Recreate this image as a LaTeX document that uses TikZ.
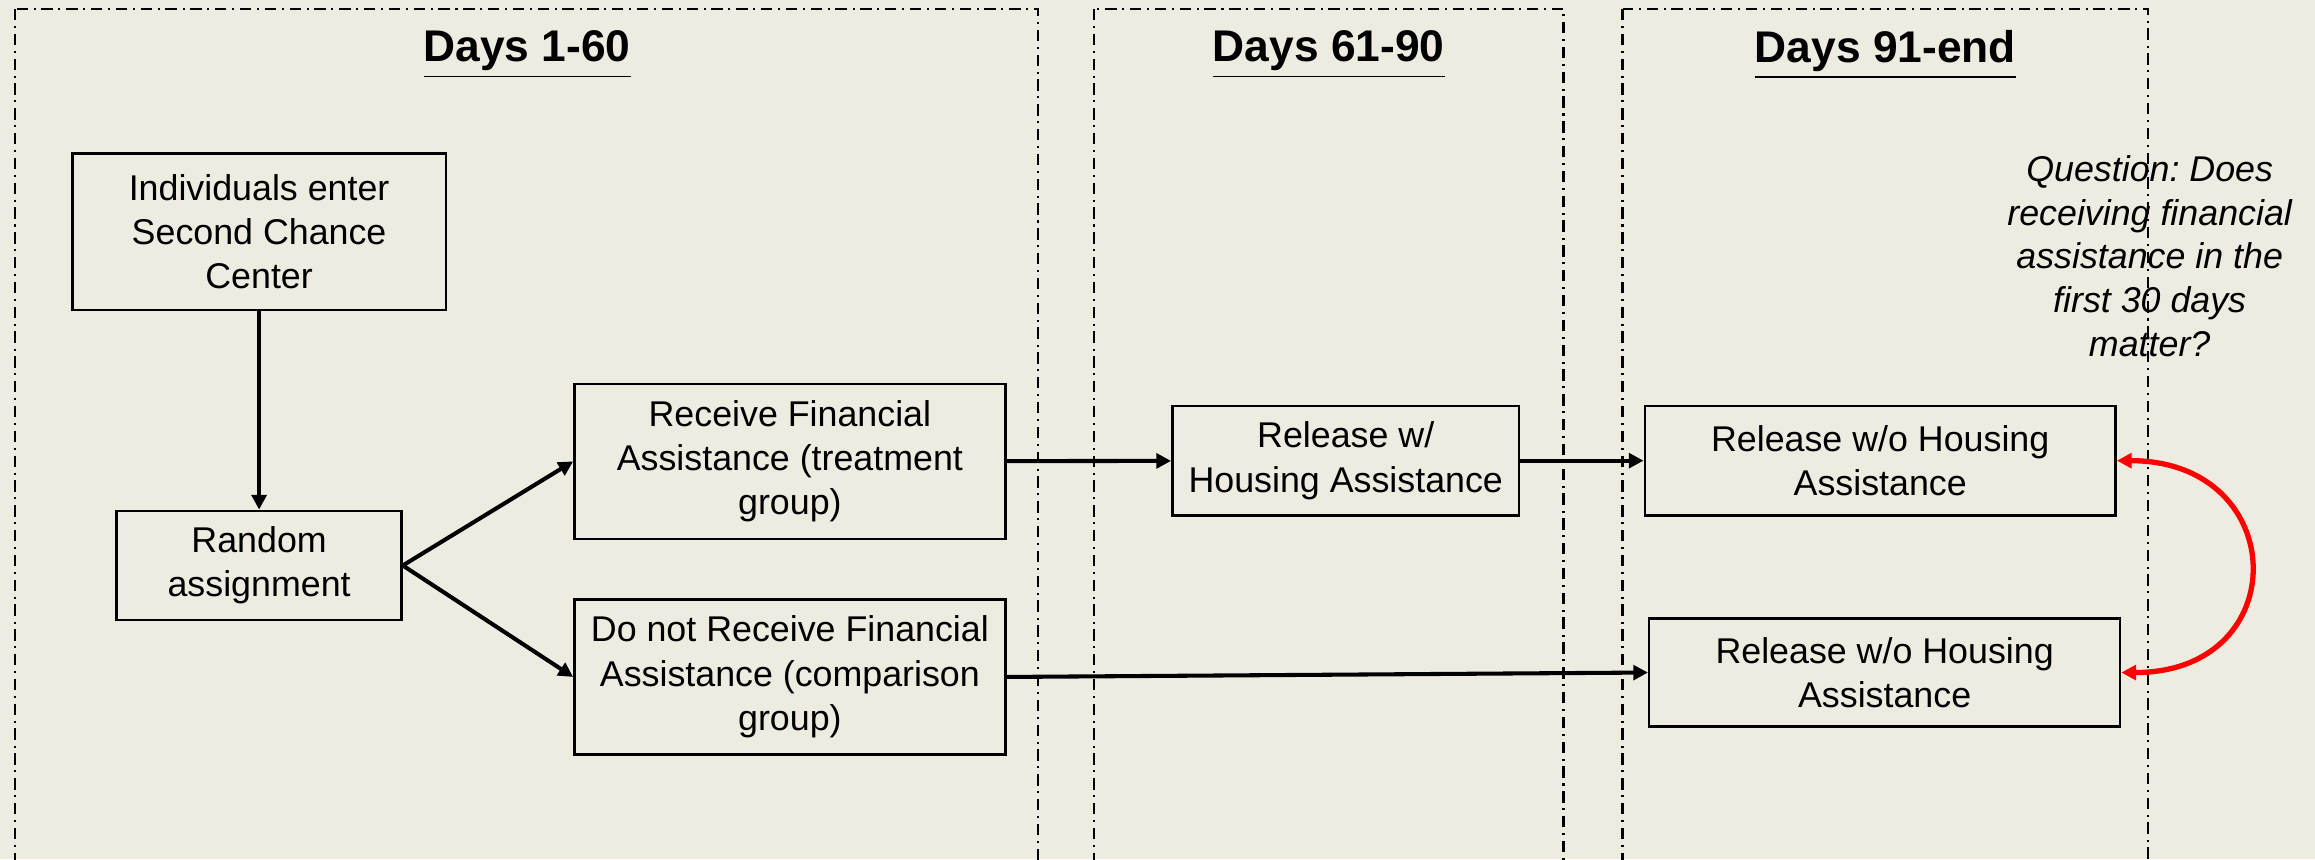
\documentclass[tikz,border=0pt]{standalone}
\usepackage{fontspec}
\setmainfont{Liberation Sans}
\usetikzlibrary{arrows.meta}
\definecolor{paper}{RGB}{238,236,225}
\frenchspacing

\begin{document}
\begin{tikzpicture}[x=0.012755cm, y=-0.012755cm,
        box/.style={draw, line width=0.6pt, align=center, inner sep=0pt, font=\fontsize{8.8pt}{10.9pt}\selectfont},
        phase/.style={draw, line width=0.6pt, dash pattern=on 2.8pt off 1.4pt on 0.5pt off 1.4pt},
        title/.style={font=\bfseries\fontsize{10.9pt}{13pt}\selectfont},
        question/.style={align=center, font=\itshape\fontsize{8.8pt}{10.8pt}\selectfont},
        flow/.style={line width=1pt, -{Triangle[length=3.6pt, width=3.6pt]}}]

        \def\boxh{0.944cm}

        \fill[paper] (0,0) rectangle (1568,582);
        \clip (0,0) rectangle (1568,582);

        \draw[phase] (10,6) rectangle (703,620);
        \draw[phase] (741,6) rectangle (1059,620);
        \draw[phase] (1099,6) rectangle (1455,620);

        \node[title] (days1) at (357,37) {\underline{Days 1-60}};
        \node[title] (days2) at (900,37) {\underline{Days 61-90}};
        \node[title] (days3) at (1277,37) {\underline{Days 91-end}};

        \node[box, minimum width=3.227cm, minimum height=1.352cm] (enter) at (175.5,157) {Individuals enter\\Second Chance\\Center};
        \node[box, minimum width=2.462cm, minimum height=\boxh] (random) at (175.5,383) {Random\\assignment};
        \node[box, minimum width=3.724cm, minimum height=1.339cm] (treat) at (535,312.5) {Receive Financial\\Assistance (treatment\\group)};
        \node[box, minimum width=3.724cm, minimum height=1.339cm] (comp) at (535,458.5) {Do not Receive Financial\\Assistance (comparison\\group)};
        \node[box, minimum width=2.997cm, minimum height=\boxh] (withh) at (911.5,312) {Release w/\\Housing Assistance};
        \node[box, minimum width=4.069cm, minimum height=\boxh] (noh1) at (1273.5,312) {Release w/o Housing\\Assistance};
        \node[box, minimum width=4.069cm, minimum height=0.931cm] (noh2) at (1276.5,455.5) {Release w/o Housing\\Assistance};

        \node[question] (q) at (1456,173.5) {Question: Does\\receiving financial\\assistance in the\\first 30 days\\matter?};

        \draw[flow] (enter) -- (random);
        \draw[flow] (random.east) -- (treat.west);
        \draw[flow] (random.east) -- (comp.west);
        \draw[flow] (treat) -- (withh);
        \draw[flow] (withh) -- (noh1);
        \draw[flow] (comp.east) -- (noh2.west);
        \draw[red, line width=1.3pt, {Triangle[length=3.6pt, width=3.6pt]}-{Triangle[length=3.6pt, width=3.6pt]}] (noh1.east) .. controls +(118,0) and +(118,0) .. (noh2.east);

      \end{tikzpicture}
\end{document}
